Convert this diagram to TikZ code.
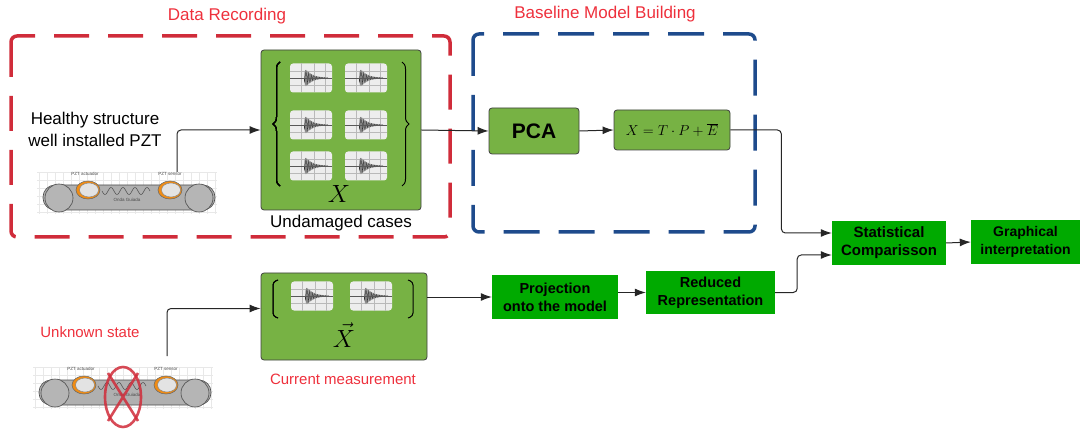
\documentclass[tikz,border=0pt]{standalone}
\usepackage{fontspec}
\setmainfont{Liberation Sans}
\usetikzlibrary{positioning,decorations.pathreplacing,arrows.meta}

\definecolor{boxgreen}{RGB}{119,178,68}
\definecolor{flowgreen}{RGB}{0,170,0}
\definecolor{recred}{RGB}{208,44,58}
\definecolor{titlered}{RGB}{238,48,60}
\definecolor{basblue}{RGB}{30,75,140}
\definecolor{pztorange}{RGB}{240,140,20}

\newcommand{\fsz}[2]{\fontsize{#1}{#2}\selectfont}

% small signal window: grid, zero line and a decaying burst
\newcommand{\sigthumb}[2]{%
\begin{scope}[shift={(#1,#2)}]
\fill[gray!14,rounded corners=3pt] (-21,-14.5) rectangle (21,14.5);
\foreach \gx in {-10,3,14}\draw[gray!55,line width=.4pt] (\gx,-14.5) -- (\gx,14.5);
\foreach \gy in {-7,7}\draw[gray!55,line width=.4pt] (-21,\gy) -- (21,\gy);
\fill[gray!62,domain=0:1,samples=40] plot ({-7+24*\x},{-12*(1-exp(-30*\x))*exp(-3.6*\x)})
  -- plot[domain=1:0] ({-7+24*\x},{12*(1-exp(-30*\x))*exp(-3.6*\x)}) -- cycle;
\draw[gray!40!black,line width=.25pt,domain=0:1,samples=160] plot ({-7+24*\x},{11*(1-exp(-30*\x))*exp(-3.6*\x)*sin(5400*\x)});
\draw[black!65,line width=.7pt] (-21,0) -- (21,0);
\end{scope}}

% beam with actuator and sensor discs on a grid sheet
\newcommand{\pztbeam}[3]{%
\begin{scope}[shift={(#1,#2)}]
\foreach \gx in {-90,-82,...,88}\draw[gray!18,line width=.3pt] (\gx,-26) -- (\gx,16);
\foreach \gy in {-26,-18,...,16}\draw[gray!18,line width=.3pt] (-92,\gy) -- (88,\gy);
\filldraw[fill=gray!62,draw=black!70,line width=.6pt,rounded corners=12pt] (-86,-13) rectangle (86,12);
\filldraw[fill=gray!58,draw=black!70,line width=.6pt] (-70,0) circle (14);
\filldraw[fill=gray!58,draw=black!70,line width=.6pt] (70,0) circle (14);
\draw[black!70,line width=.5pt,domain=0:1,samples=60] plot ({-27+48*\x},{-7+3.5*sin(1440*\x)});
\filldraw[fill=pztorange,draw=black!60,line width=.5pt] (-41,-8) ellipse (12 and 9);
\filldraw[fill=gray!22,draw=black!50,line width=.4pt] (-40,-8) ellipse (9.5 and 7);
\filldraw[fill=pztorange,draw=black!60,line width=.5pt] (41,-8) ellipse (12 and 9);
\filldraw[fill=gray!22,draw=black!50,line width=.4pt] (42,-8) ellipse (9.5 and 7);
\node[font=\fsz{4.5}{5},text=black!70] at (-44,-24) {PZT actuador};
\node[font=\fsz{4.5}{5},text=black!70] at (41,-24) {PZT sensor};
\node[font=\fsz{4.5}{5},text=black!70] at (#3,2) {Onda Guiada};
\end{scope}}

\tikzset{
  greenbox/.style={draw=black!75,fill=boxgreen,rounded corners=3pt,line width=.8pt,inner sep=0pt},
  flowbox/.style={fill=flowgreen,align=center,inner sep=0pt,font=\bfseries},
  regionred/.style={recred,line width=3.5pt,dash pattern=on 35pt off 19pt,rounded corners=6pt},
  regionblue/.style={basblue,line width=3.5pt,dash pattern=on 36pt off 19pt,rounded corners=6pt},
  wire/.style={black!85,line width=1pt,rounded corners=4pt},
  >={Latex[length=11pt,width=8pt]}
}

\begin{document}
\begin{tikzpicture}[x=1pt,y=-1pt]
\useasboundingbox (0,0) rectangle (1081,430);

% regions
\draw[regionred] (11,36) rectangle (450,237);
\draw[regionblue] (473,34) rectangle (755,232);
\node[text=titlered,font=\fsz{17}{20}] (rectitle) at (227,16) {Data Recording};
\node[text=titlered,font=\fsz{17}{20}] (bastitle) at (605,14) {Baseline Model Building};

% healthy structure
\node[align=center,font=\fsz{17}{22}] (healthy) at (95,129) {Healthy structure\\well installed PZT};
\pztbeam{129}{198}{-2}
\coordinate (sens1) at (177,172);

% undamaged data matrix
\node[greenbox,minimum width=160pt,minimum height=160pt] (xbox) at (341,130) {};
\foreach \px in {311,366}\foreach \py in {78,125,166}\sigthumb{\px}{\py}
\draw[decorate,decoration={brace,amplitude=7pt},line width=1pt] (280,186) -- (280,62);
\draw[decorate,decoration={brace,amplitude=7pt},line width=1pt] (402,62) -- (402,186);
\node[font=\fsz{28}{28}] (xlab) at (339,194) {$X$};
\node[font=\fsz{17}{20}] (undam) at (341,223) {Undamaged cases};

% baseline model
\node[greenbox,minimum width=90pt,minimum height=46pt,font=\fsz{21}{24}\bfseries] (pca) at (534,131) {PCA};
\node[greenbox,minimum width=116pt,minimum height=40pt,font=\fsz{14}{16}] (model) at (672,130) {$X=T\cdot P+\overline{E}$};

% unknown state
\node[text=titlered,font=\fsz{15}{18}] (unknown) at (90,332) {Unknown state};
\pztbeam{125}{393}{2}
\draw[recred,line width=2.6pt,opacity=.85] (123,397) ellipse (18 and 30);
\draw[recred,line width=2.6pt,opacity=.85] (108,373) -- (138,421) (138,373) -- (108,421);
\coordinate (sens2) at (167,356);

% current measurement
\node[greenbox,minimum width=166pt,minimum height=87pt] (curbox) at (344,316.5) {};
\foreach \px in {312,371}\sigthumb{\px}{296}
\draw[line width=1pt,rounded corners=3pt] (278,280) -- (273,282) -- (273,316) -- (278,318);
\draw[line width=1pt,rounded corners=3pt] (408,280) -- (413,282) -- (413,316) -- (408,318);
\node[font=\fsz{25}{25},inner sep=1pt] (xvec) at (344,335) {$\vec{X}$};
\node[text=titlered,font=\fsz{15}{18}] (curlab) at (343,379) {Current measurement};

% processing chain
\node[flowbox,minimum width=126pt,minimum height=44pt,font=\fsz{14.5}{18}\bfseries] (proj) at (555,297) {Projection\\onto the model};
\node[flowbox,minimum width=129pt,minimum height=43pt,font=\fsz{14.5}{18}\bfseries] (reduced) at (710.5,292.5) {Reduced\\Representation};
\node[flowbox,minimum width=114pt,minimum height=44pt,font=\fsz{15}{18}\bfseries] (stat) at (889,243) {Statistical\\Comparisson};
\node[flowbox,minimum width=109pt,minimum height=44pt,font=\fsz{14}{18}\bfseries] (graph) at (1025.5,242) {Graphical\\interpretation};

% connectors
\draw[wire,->] (sens1) |- (xbox.west);
\draw[wire,->] (xbox.east) -- (pca.west);
\draw[wire,->] (pca.east) -- (model.west);
\draw[wire,->] (model.east) -- ++(51,0) |- ([yshift=10pt]stat.west);
\draw[wire,->] (sens2) |- ([yshift=8pt]curbox.west);
\draw[wire,->] (curbox.east |- proj.west) -- (proj.west);
\draw[wire,->] (proj.east |- reduced.west) -- (reduced.west);
\draw[wire,->] (reduced.east) -- ++(22,0) |- ([yshift=-12pt]stat.west);
\draw[wire,->] (stat.east) -- (graph.west);
\end{tikzpicture}
\end{document}
